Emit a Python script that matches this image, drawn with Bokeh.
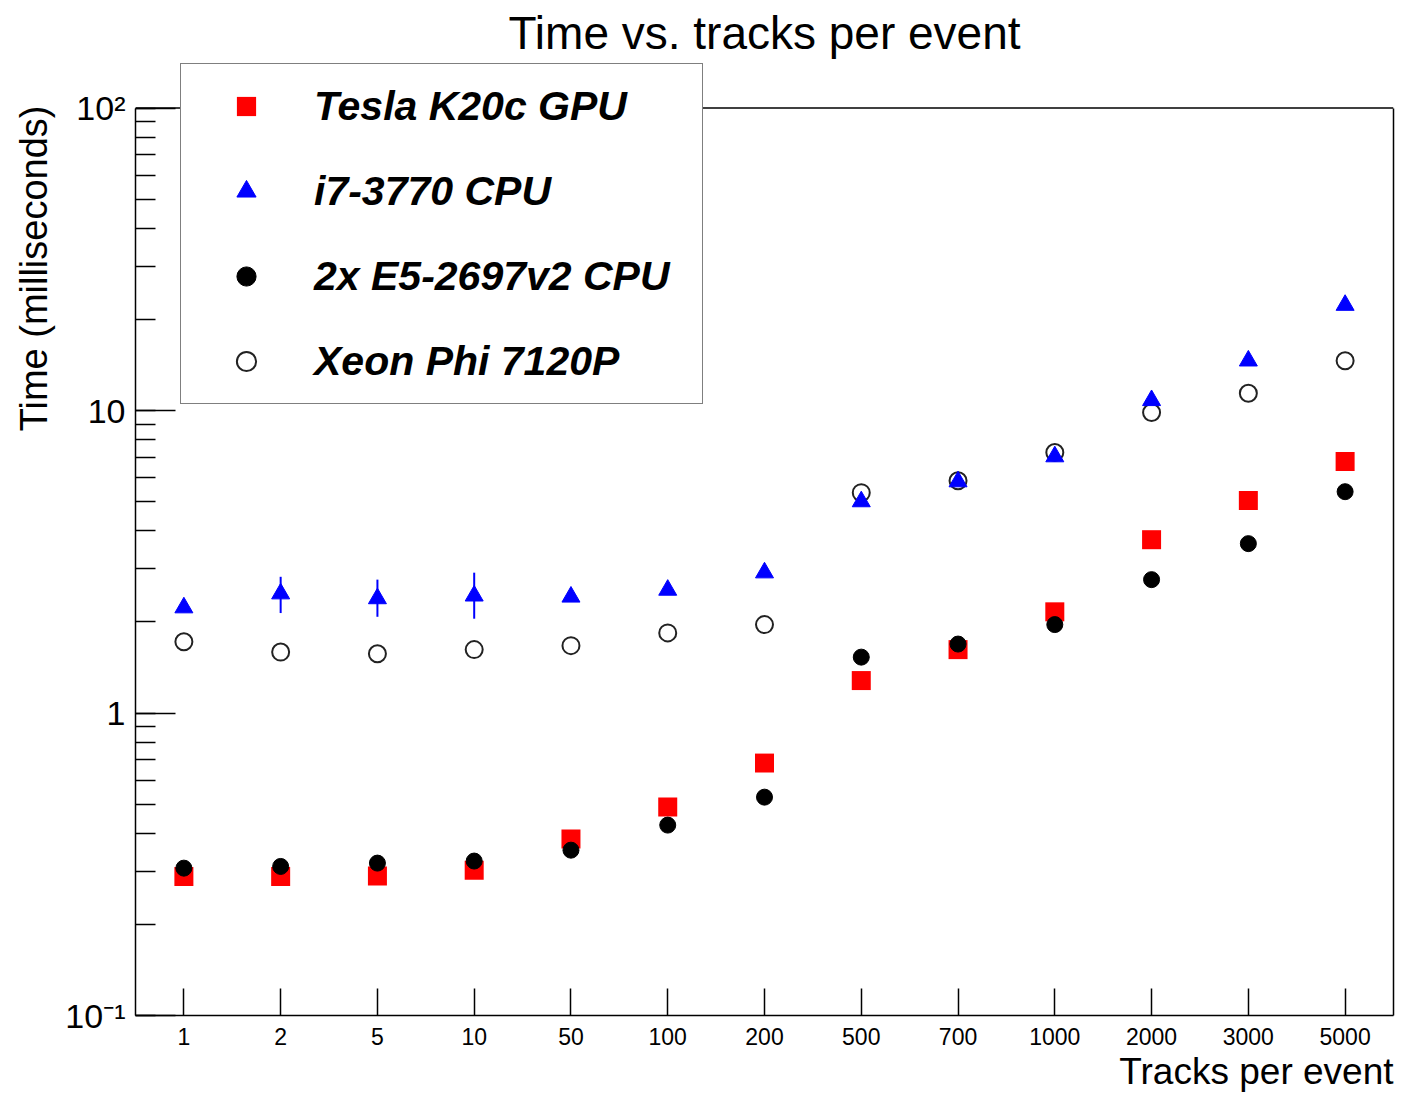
import math
from bokeh.plotting import figure
from bokeh.models import (FactorRange, Range1d, Legend, LegendItem, Title, Span,
                          LogAxis, FixedTicker)
from bokeh.embed import file_html
from bokeh.resources import INLINE

# ---- data ----
tracks = ["1", "2", "5", "10", "50", "100", "200", "500", "700", "1000", "2000", "3000", "5000"]
gpu_k20c = [0.288, 0.288, 0.289, 0.302, 0.383, 0.489, 0.683, 1.28, 1.62, 2.16, 3.74, 5.04, 6.78]
cpu_i7 = [2.23, 2.48, 2.39, 2.44, 2.42, 2.55, 2.91, 5.0, 5.82, 7.04, 10.8, 14.6, 22.3]
cpu_e5 = [0.307, 0.311, 0.319, 0.324, 0.352, 0.426, 0.527, 1.53, 1.69, 1.96, 2.76, 3.63, 5.39]
xeon_phi = [1.72, 1.59, 1.57, 1.62, 1.67, 1.84, 1.96, 5.35, 5.86, 7.26, 9.85, 11.4, 14.6]

err_tracks = ["2", "5", "10"]
i7_err_low = [2.14, 2.08, 2.05]
i7_err_high = [2.82, 2.76, 2.91]

y_labels = {0.1: "10\u207b\u00b9", 1: "1", 10: "10", 100: "10\u00b2"}
y_axis_min, y_axis_max = 0.1, 100.0

FONT = "Liberation Sans"

# the frame reaches a little above 10^2 so the legend box can overlap the top border
BORDER_TOP, BORDER_BOTTOM = 62, 80
FRAME_H = 1095 - BORDER_TOP - BORDER_BOTTOM
DECADE_PX = 302.5
y_range_end = y_axis_min * 10 ** (FRAME_H / DECADE_PX)

p = figure(width=1407, height=1095,
           x_range=FactorRange(factors=tracks), y_range=Range1d(y_axis_min, y_range_end),
           y_axis_type="log", output_backend="svg", toolbar_location=None,
           min_border_left=135, min_border_right=14,
           min_border_top=BORDER_TOP, min_border_bottom=BORDER_BOTTOM)

p.background_fill_color = "white"
p.border_fill_color = "white"
p.outline_line_color = None
p.xgrid.grid_line_color = None
p.ygrid.grid_line_color = None

p.title.text = "Time vs. tracks per event"
p.title.align = "center"
p.title.text_font = FONT
p.title.text_font_size = "46px"
p.title.text_font_style = "normal"
p.title.text_color = "black"
p.title.standoff = 8

# y axis
p.yaxis.bounds = (y_axis_min, y_axis_max)
p.yaxis.major_label_overrides = y_labels
p.yaxis.major_label_text_font = FONT
p.yaxis.major_label_text_font_size = "34px"
p.yaxis.major_label_text_color = "black"
p.yaxis.major_label_standoff = 10
p.yaxis.major_tick_in = 40
p.yaxis.major_tick_out = 0
p.yaxis.minor_tick_in = 20
p.yaxis.minor_tick_out = 0
p.yaxis.axis_line_width = 1.5
p.yaxis.major_tick_line_width = 1.5
p.yaxis.minor_tick_line_width = 1.5
p.yaxis.axis_line_color = "black"
p.yaxis.major_tick_line_color = "black"
p.yaxis.minor_tick_line_color = "black"

# right frame border (bounded axis without ticks)
raxis = LogAxis(bounds=(y_axis_min, y_axis_max), ticker=FixedTicker(ticks=[], minor_ticks=[]),
                axis_line_color="black", axis_line_width=1.5,
                major_tick_line_color=None, minor_tick_line_color=None,
                major_label_text_font_size="0px", major_label_standoff=0,
                major_tick_out=0, minor_tick_out=0)
p.add_layout(raxis, "right")
# top frame border at 10^2
p.add_layout(Span(location=y_axis_max, dimension="width", line_color="black", line_width=1.5))

# x axis
p.xaxis.major_label_text_font = FONT
p.xaxis.major_label_text_font_size = "23px"
p.xaxis.major_label_text_color = "black"
p.xaxis.major_label_standoff = 12
p.xaxis.major_tick_in = 27
p.xaxis.major_tick_out = 0
p.xaxis.axis_line_width = 1.5
p.xaxis.major_tick_line_width = 1.5
p.xaxis.axis_line_color = "black"
p.xaxis.major_tick_line_color = "black"

# glyphs
r_phi = p.scatter(x=tracks, y=xeon_phi, marker="circle", size=17,
                  fill_color=None, line_color="#222222", line_width=2)
p.segment(x0=err_tracks, y0=i7_err_low, x1=err_tracks, y1=i7_err_high,
          line_color="#0000ff", line_width=2)
r_i7 = p.scatter(x=tracks, y=cpu_i7, marker="triangle", size=18,
                 fill_color="#0000ff", line_color="#0000ff", line_width=1)
r_gpu = p.scatter(x=tracks, y=gpu_k20c, marker="square", size=19,
                  fill_color="#ff0000", line_color=None)
r_e5 = p.scatter(x=tracks, y=cpu_e5, marker="circle", size=16,
                 fill_color="black", line_color="black")

legend = Legend(items=[
    LegendItem(label="Tesla K20c GPU", renderers=[r_gpu]),
    LegendItem(label="i7-3770 CPU", renderers=[r_i7]),
    LegendItem(label="2x E5-2697v2 CPU", renderers=[r_e5]),
    LegendItem(label="Xeon Phi 7120P", renderers=[r_phi]),
], location=(45, 611), margin=0, padding=12, spacing=25,
    glyph_width=106, glyph_height=48, label_height=60, label_width=376,
    label_standoff=15,
    label_text_font=FONT, label_text_font_size="41px",
    label_text_font_style="bold italic", label_text_color="black",
    border_line_color="black", border_line_width=1.5,
    background_fill_color="white", background_fill_alpha=1.0)
p.add_layout(legend)

xlab = Title(text="Tracks per event", align="right", standoff=3,
             text_font=FONT, text_font_size="37px", text_font_style="normal",
             text_color="black")
ylab = Title(text="Time (milliseconds)", align="right", standoff=16, offset=43,
             text_font=FONT, text_font_size="38px", text_font_style="normal",
             text_color="black")
p.add_layout(xlab, "below")
p.add_layout(ylab, "left")

open("out.html", "w").write(file_html(p, INLINE))
